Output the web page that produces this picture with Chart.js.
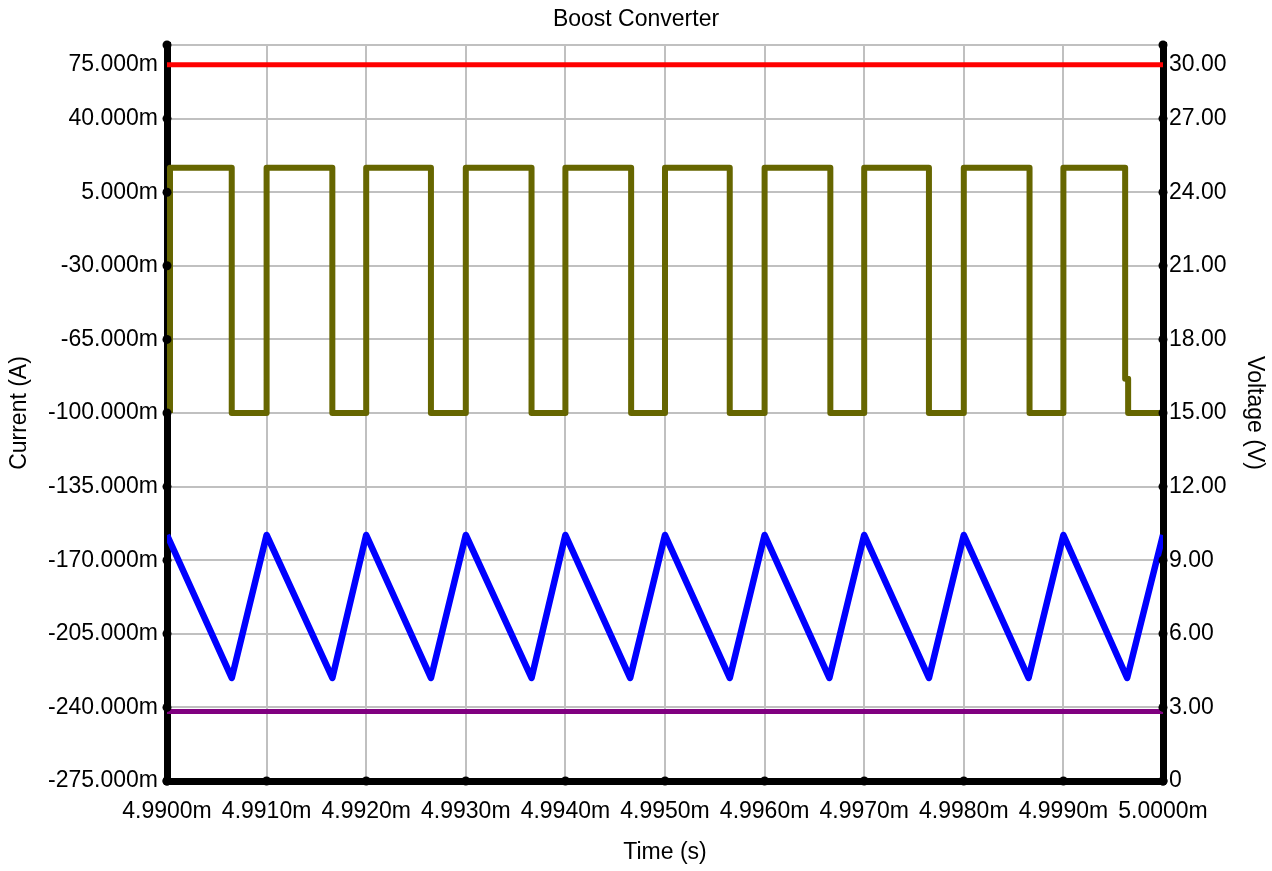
<!DOCTYPE html>
<html>
<head>
<meta charset="utf-8">
<title>Boost Converter</title>
<script src="https://cdn.jsdelivr.net/npm/chart.js@4.4.1/dist/chart.umd.min.js"></script>
<style>
    html, body { margin: 0; padding: 0; background: #fff; }
    #wrap { width: 1272px; height: 871px; position: relative; }
</style>
</head>
<body>
<div id="wrap"><canvas id="chart"></canvas></div>
<script>
// Time axis (ms)
const timeMin = 4.9900;
const timeMax = 5.0000;
const timeStep = 0.001;

// Current axis (mA) and voltage axis (V)
const currentMin = -275;
const currentMax = 75;
const currentStep = 35;
const voltageMin = 0;
const voltageMax = 30;
const voltageStep = 3;

// Switch voltage square wave (V)
const switchTimes = [
    4.99003, 4.99003, 4.99065, 4.99065, 4.99100, 4.99100, 4.99166, 4.99166, 4.99200,
    4.99200, 4.99265, 4.99265, 4.99300, 4.99300, 4.99366, 4.99366, 4.99400,
    4.99400, 4.99466, 4.99466, 4.99500, 4.99500, 4.99565, 4.99565, 4.99600,
    4.99600, 4.99666, 4.99666, 4.99700, 4.99700, 4.99765, 4.99765, 4.99800,
    4.99800, 4.99866, 4.99866, 4.99900, 4.99900, 4.99962, 4.99962, 4.99965,
    4.99965, 5.00000
];
const switchVolts = [
    15, 25, 25, 15, 15, 25, 25, 15, 15,
    25, 25, 15, 15, 25, 25, 15, 15,
    25, 25, 15, 15, 25, 25, 15, 15,
    25, 25, 15, 15, 25, 25, 15, 15,
    25, 25, 15, 15, 25, 25, 16.4, 16.4,
    15, 15
];

// Inductor current triangle (mA)
const inductorTimes = [
    4.99000, 4.99065, 4.99100, 4.99166, 4.99200, 4.99265, 4.99300, 4.99366,
    4.99400, 4.99465, 4.99500, 4.99565, 4.99600, 4.99665, 4.99700, 4.99765,
    4.99800, 4.99865, 4.99900, 4.99964, 5.00000
];
const inductorCurrent = [
    -158, -226, -158, -226, -158, -226, -158, -226,
    -158, -226, -158, -226, -158, -226, -158, -226,
    -158, -226, -158, -226, -158
];

// Flat traces
const outputTimes = [4.9900, 5.0000];
const outputVolts = [29.2, 29.2];
const loadCurrent = [-242, -242];

const fontFamily = '"Liberation Sans", Arial, sans-serif';
const fontSize = 23;

function toPoints(xs, ys) {
    return xs.map((x, i) => ({ x, y: ys[i] }));
}

// Tick dots and tick labels drawn by hand (top labels sit below the top edge)
const axisDecor = {
    id: 'axisDecor',
    afterDraw(chart) {
        const { ctx, chartArea, scales } = chart;
        const cur = scales.yCurrent;
        const volt = scales.yVolt;
        const x = scales.x;

        ctx.save();
        ctx.fillStyle = '#000';
        ctx.font = fontSize + 'px ' + fontFamily;
        ctx.textBaseline = 'middle';

        const dot = (px, py) => {
            ctx.beginPath();
            ctx.arc(px, py, 4.5, 0, Math.PI * 2);
            ctx.fill();
        };

        cur.ticks.forEach(t => {
            let py = cur.getPixelForValue(t.value);
            dot(chartArea.left, py);
            if (t.value === currentMax) py += 20;
            ctx.textAlign = 'right';
            ctx.fillText(t.value.toFixed(3) + 'm', chartArea.left - 9, py);
        });

        volt.ticks.forEach(t => {
            let py = volt.getPixelForValue(t.value);
            dot(chartArea.right, py);
            if (t.value === voltageMax) py += 20;
            ctx.textAlign = 'left';
            ctx.fillText(t.value === 0 ? '0' : t.value.toFixed(2), chartArea.right + 6, py);
        });

        x.ticks.forEach(t => {
            const px = x.getPixelForValue(t.value);
            dot(px, chartArea.bottom);
            ctx.textAlign = 'center';
            ctx.fillText(t.value.toFixed(4) + 'm', px, chartArea.bottom + 31);
        });
        ctx.restore();
    }
};

const ctx = document.getElementById('chart').getContext('2d');
new Chart(ctx, {
    type: 'line',
    data: {
        datasets: [
            {
                label: 'Vout', data: toPoints(outputTimes, outputVolts), yAxisID: 'yVolt',
                borderColor: '#ff0000', borderWidth: 5
            },
            {
                label: 'Vsw', data: toPoints(switchTimes, switchVolts), yAxisID: 'yVolt',
                borderColor: '#666600', borderWidth: 6, borderJoinStyle: 'round'
            },
            {
                label: 'IL', data: toPoints(inductorTimes, inductorCurrent), yAxisID: 'yCurrent',
                borderColor: '#0000ff', borderWidth: 6.5, borderJoinStyle: 'round'
            },
            {
                label: 'Iload', data: toPoints(outputTimes, loadCurrent), yAxisID: 'yCurrent',
                borderColor: '#800080', borderWidth: 5
            }
        ]
    },
    options: {
        responsive: true,
        maintainAspectRatio: false,
        animation: false,
        events: [],
        layout: { padding: 0 },
        elements: { point: { radius: 0 }, line: { tension: 0, fill: false } },
        plugins: {
            legend: { display: false },
            tooltip: { enabled: false },
            title: {
                display: true,
                text: 'Boost Converter',
                color: '#000',
                font: { family: fontFamily, size: fontSize, weight: 'normal' },
                padding: { top: 5.5, bottom: 11.9 }
            }
        },
        scales: {
            x: {
                type: 'linear',
                min: timeMin,
                max: timeMax,
                ticks: { display: false, stepSize: timeStep },
                grid: { color: '#c0c0c0', lineWidth: 2, drawTicks: false },
                border: { color: '#000', width: 7 },
                title: {
                    display: true, text: 'Time (s)', color: '#000',
                    font: { family: fontFamily, size: fontSize },
                    padding: { top: 0, bottom: 4.2 }
                },
                afterFit: s => { s.height = 90; }
            },
            yCurrent: {
                type: 'linear',
                position: 'left',
                min: currentMin,
                max: currentMax,
                ticks: { display: false, stepSize: currentStep },
                grid: { color: '#c0c0c0', lineWidth: 2, drawTicks: false },
                border: { color: '#000', width: 7 },
                title: {
                    display: true, text: 'Current (A)', color: '#000',
                    font: { family: fontFamily, size: fontSize },
                    padding: { top: 6.2, bottom: 0 }
                },
                afterFit: s => { s.width = 167; }
            },
            yVolt: {
                type: 'linear',
                position: 'right',
                min: voltageMin,
                max: voltageMax,
                ticks: { display: false, stepSize: voltageStep },
                grid: { drawOnChartArea: false, drawTicks: false },
                border: { color: '#000', width: 7 },
                title: {
                    display: true, text: 'Voltage (V)', color: '#000',
                    font: { family: fontFamily, size: fontSize },
                    padding: { top: 4.2, bottom: 0 }
                },
                afterFit: s => { s.width = 109; }
            }
        }
    },
    plugins: [axisDecor]
});
</script>
</body>
</html>
